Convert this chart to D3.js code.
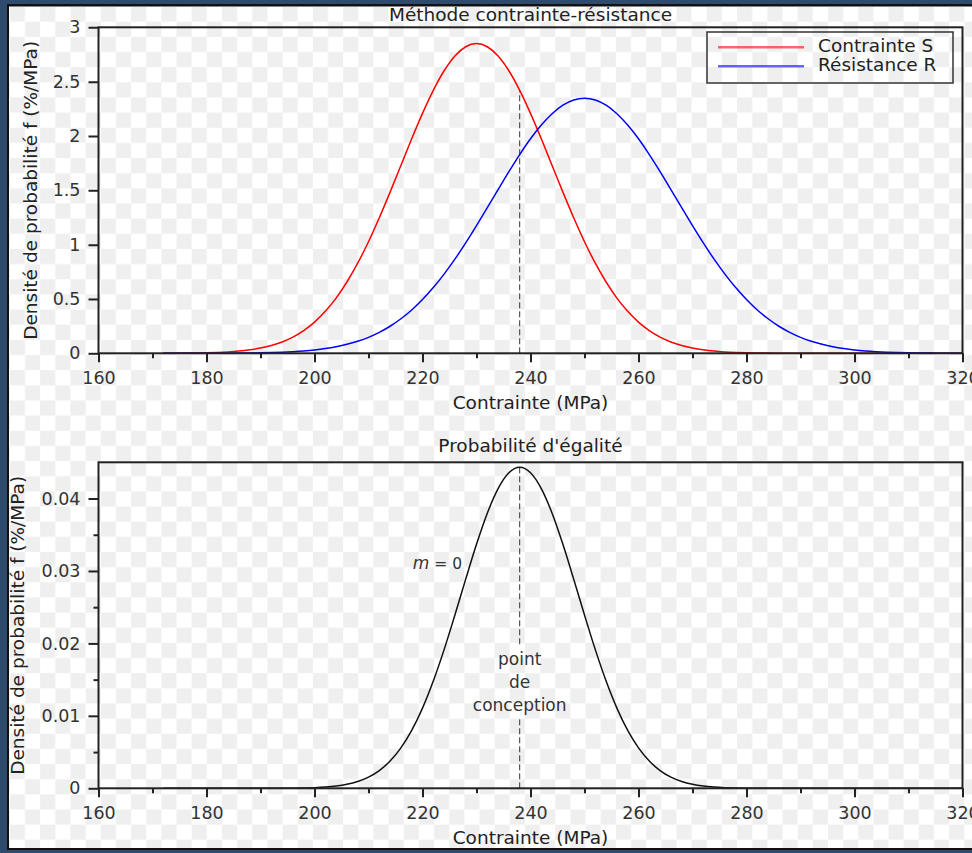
<!DOCTYPE html>
<html>
<head>
<meta charset="utf-8">
<script src="https://cdn.jsdelivr.net/npm/d3@7/dist/d3.min.js"></script>
<style>
	body {
		padding: 0;
		margin: 0;
		background: #2e4b6d;
	}
	text {
		font-family: "DejaVu Sans", sans-serif;
	}
	.axis text {
		font-size: 17.5px;
		fill: #333;
	}
	.axis line {
		stroke: #222;
		stroke-width: 2;
	}
	.axis path {
		display: none;
	}
	.label {
		font-size: 18.5px;
		fill: #222;
	}
	.note {
		font-size: 15.5px;
		fill: #333;
	}
</style>
</head>
<body>
<div id="content"></div>
<script>

// Abscissa (MPa), sampled every 2 MPa
var xs = [172,174,176,178,180,182,184,186,188,190,192,194,196,198,200,202,204,206,208,210,
	212,214,216,218,220,222,224,226,228,230,232,234,236,238,240,242,244,246,248,250,
	252,254,256,258,260,262,264,266,268,270,272,274,276,278,280,282,284,286,288,290,
	292,294,296,298,300,302,304,306,308,310,312,314,316,318,320];

// Contrainte S, density (%/MPa)
var contrainteS = [0.0005,0.0010,0.0017,0.0029,0.0048,0.0080,0.0129,0.0204,0.0317,0.0481,
	0.0716,0.1045,0.149,0.209,0.287,0.386,0.508,0.656,0.829,1.027,
	1.247,1.483,1.728,1.974,2.208,2.420,2.600,2.736,2.821,2.850,
	2.821,2.736,2.600,2.420,2.208,1.974,1.728,1.483,1.247,1.027,
	0.829,0.656,0.508,0.386,0.287,0.209,0.149,0.1045,0.0716,0.0481,
	0.0317,0.0204,0.0129,0.0080,0.0048,0.0029,0.0017,0.0010,0.0005,0.0003,
	0.0001,0,0,0,0,0,0,0,0,0,
	0,0,0,0,0];

// Résistance R, density (%/MPa)
var resistanceR = [0.0001,0.0001,0.0002,0.0003,0.0005,0.0008,0.0013,0.0020,0.0030,0.0046,
	0.0070,0.0103,0.0151,0.0218,0.0310,0.0436,0.0604,0.0824,0.111,0.147,
	0.193,0.249,0.318,0.399,0.495,0.605,0.729,0.866,1.016,1.175,
	1.340,1.507,1.672,1.829,1.974,2.101,2.205,2.283,2.331,2.347,
	2.331,2.283,2.205,2.101,1.974,1.829,1.672,1.507,1.340,1.175,
	1.016,0.866,0.729,0.605,0.495,0.399,0.318,0.249,0.193,0.147,
	0.111,0.0824,0.0604,0.0436,0.0310,0.0218,0.0151,0.0103,0.0070,0.0046,
	0.0030,0.0020,0.0013,0.0008,0.0005];

// Probabilité d'égalité (%/MPa)
var egalite = [0,0,0,0,0,0,0,0,0,0,
	0,0,0.00002,0.00005,0.00009,0.00017,0.00031,0.00055,0.00094,0.00154,
	0.00245,0.00376,0.00558,0.00799,0.01107,0.01481,0.01914,0.02392,0.02887,0.03368,
	0.03797,0.04137,0.04355,0.0443,0.04355,0.04137,0.03797,0.03368,0.02887,0.02392,
	0.01914,0.01481,0.01107,0.00799,0.00558,0.00376,0.00245,0.00154,0.00094,0.00055,
	0.00031,0.00017,0.00009,0.00005,0.00002,0,0,0,0,0,
	0,0,0,0,0,0,0,0,0,0,
	0,0,0,0,0];

var designPoint = 238;

// Ticks
var xTicks = [160,180,200,220,240,260,280,300,320];
var xMinor = [170,190,210,230,250,270,290,310];
var yTicksTop = [0,0.5,1,1.5,2,2.5,3];
var yTicksBottom = [0,0.01,0.02,0.03,0.04];
var yMinorBottom = [0.005,0.015,0.025,0.035];

var w = 972, h = 853;

var svg = d3.select('#content')
	.append('svg')
	.attr('width', w)
	.attr('height', h);

var defs = svg.append('defs');

// checkerboard (transparent background of the picture)
var pat = defs.append('pattern')
	.attr('id', 'checker')
	.attr('patternUnits', 'userSpaceOnUse')
	.attr('x', 9.85).attr('y', 6.55)
	.attr('width', 30.3).attr('height', 30.3);
pat.append('rect').attr('width', 30.3).attr('height', 30.3).attr('fill', '#fff');
pat.append('rect').attr('width', 15.15).attr('height', 15.15).attr('fill', '#efefef');
pat.append('rect').attr('x', 15.15).attr('y', 15.15).attr('width', 15.15).attr('height', 15.15).attr('fill', '#efefef');

defs.append('clipPath').attr('id', 'frameclip')
	.append('rect').attr('x', 9).attr('y', 6.5).attr('width', w - 9).attr('height', 841.5);

// window frame
svg.append('rect').attr('width', w).attr('height', h).attr('fill', '#2e4b6d');
svg.append('rect').attr('x', 7).attr('y', 4).attr('width', w).attr('height', 846).attr('fill', '#111');

var root = svg.append('g').attr('clip-path', 'url(#frameclip)');
root.append('rect').attr('x', 9).attr('y', 6).attr('width', w - 9).attr('height', 842)
	.attr('fill', 'url(#checker)');

var x = d3.scaleLinear().domain([160, 320]).range([98.5, 962.5]);
var yTop = d3.scaleLinear().domain([0, 3]).range([353.3, 27.3]);
var yBot = d3.scaleLinear().domain([0, 0.045]).range([788.3, 462.3]);

function drawAxes(y, yTicks, yMinor) {
	var y0 = y.range()[0], y1 = y.range()[1];
	var g = root.append('g');
	g.append('g').attr('class', 'axis')
		.attr('transform', 'translate(0,' + y0 + ')')
		.call(d3.axisBottom(x).tickValues(xMinor).tickSize(5).tickFormat(''));
	g.append('g').attr('class', 'axis')
		.attr('transform', 'translate(0,' + y0 + ')')
		.call(d3.axisBottom(x).tickValues(xTicks).tickSize(9).tickPadding(9).tickFormat(d3.format('d')));
	if (yMinor) {
		g.append('g').attr('class', 'axis')
			.attr('transform', 'translate(' + x.range()[0] + ',0)')
			.call(d3.axisLeft(y).tickValues(yMinor).tickSize(5).tickFormat(''));
	}
	g.append('g').attr('class', 'axis')
		.attr('transform', 'translate(' + x.range()[0] + ',0)')
		.call(d3.axisLeft(y).tickValues(yTicks).tickSize(10).tickPadding(8).tickFormat(d3.format('~g')));
	// box
	g.append('rect')
		.attr('x', x.range()[0]).attr('y', y1)
		.attr('width', x.range()[1] - x.range()[0]).attr('height', y0 - y1)
		.attr('fill', 'none').attr('stroke', '#222').attr('stroke-width', 2);
}

function curve(y, vals, color, width) {
	var line = d3.line()
		.x(function(d, i) { return x(xs[i]); })
		.y(function(d) { return y(d); })
		.curve(d3.curveMonotoneX);
	root.append('path')
		.datum(vals)
		.attr('d', line)
		.attr('fill', 'none')
		.attr('stroke', color)
		.attr('stroke-width', width);
}

// ---------- top : Méthode contrainte-résistance ----------
var iDesign = xs.indexOf(designPoint);

root.append('line')
	.attr('x1', x(designPoint)).attr('x2', x(designPoint))
	.attr('y1', yTop(0)).attr('y2', yTop(contrainteS[iDesign]))
	.attr('stroke', '#333').attr('stroke-width', 1).attr('stroke-dasharray', '6,3');

curve(yTop, contrainteS, '#ff0000', 1.5);
curve(yTop, resistanceR, '#0000ff', 1.5);
drawAxes(yTop, yTicksTop, null);

root.append('text').attr('class', 'label')
	.attr('x', 530.5).attr('y', 20.5).attr('text-anchor', 'middle')
	.text('Méthode contrainte-résistance');
root.append('text').attr('class', 'label')
	.attr('x', 530.5).attr('y', 409).attr('text-anchor', 'middle')
	.text('Contrainte (MPa)');
root.append('text').attr('class', 'label')
	.attr('transform', 'translate(37,' + (yTop(1.5)) + ') rotate(-90)')
	.attr('text-anchor', 'middle')
	.text('Densité de probabilité f (%/MPa)');

// legend
var legend = root.append('g');
legend.append('rect')
	.attr('x', 707).attr('y', 32).attr('width', 246).attr('height', 51)
	.attr('fill', 'none').attr('stroke', '#333').attr('stroke-width', 1.5);
var legendItems = [
	{name: 'Contrainte S', color: '#ff0000'},
	{name: 'Résistance R', color: '#0000ff'}
];
legendItems.forEach(function(d, i) {
	var ly = 47.3 + i * 19;
	legend.append('line')
		.attr('x1', 718).attr('x2', 804).attr('y1', ly).attr('y2', ly)
		.attr('stroke', d.color).attr('stroke-width', 2.5).attr('stroke-opacity', 0.6);
	legend.append('text').attr('class', 'label')
		.attr('x', 818).attr('y', ly + 5)
		.text(d.name);
});

// ---------- bottom : Probabilité d'égalité ----------
var iPeak = egalite.indexOf(d3.max(egalite));

root.append('line')
	.attr('x1', x(xs[iPeak])).attr('x2', x(xs[iPeak]))
	.attr('y1', yBot(0)).attr('y2', yBot(egalite[iPeak]))
	.attr('stroke', '#333').attr('stroke-width', 1).attr('stroke-dasharray', '6,3');

// label sits on a patch of background so the dashed line is interrupted
var noteG = root.append('g');
var noteLines = ['point', 'de', 'conception'];
var noteText = noteG.append('text').attr('class', 'note')
	.style('font-size', '17px').attr('text-anchor', 'middle');
noteLines.forEach(function(t, i) {
	noteText.append('tspan').attr('x', x(designPoint)).attr('y', 665 + i * 23).text(t);
});
var bb = noteText.node().getBBox();
noteG.insert('rect', 'text')
	.attr('x', bb.x).attr('y', bb.y - 3)
	.attr('width', bb.width).attr('height', bb.height + 6)
	.attr('fill', 'url(#checker)');

curve(yBot, egalite, '#111', 1.5);
drawAxes(yBot, yTicksBottom, yMinorBottom);

var mText = root.append('text').attr('class', 'note')
	.attr('x', 462).attr('y', 569).attr('text-anchor', 'end');
mText.append('tspan').attr('font-style', 'italic').style('font-size', '17px').text('m');
mText.append('tspan').text(' = 0');

root.append('text').attr('class', 'label')
	.attr('x', 530.5).attr('y', 452).attr('text-anchor', 'middle')
	.text("Probabilité d'égalité");
root.append('text').attr('class', 'label')
	.attr('x', 530.5).attr('y', 844).attr('text-anchor', 'middle')
	.text('Contrainte (MPa)');
root.append('text').attr('class', 'label')
	.attr('transform', 'translate(24,' + (yBot(0.0225)) + ') rotate(-90)')
	.attr('text-anchor', 'middle')
	.text('Densité de probabilité f (%/MPa)');

</script>
</body>
</html>
